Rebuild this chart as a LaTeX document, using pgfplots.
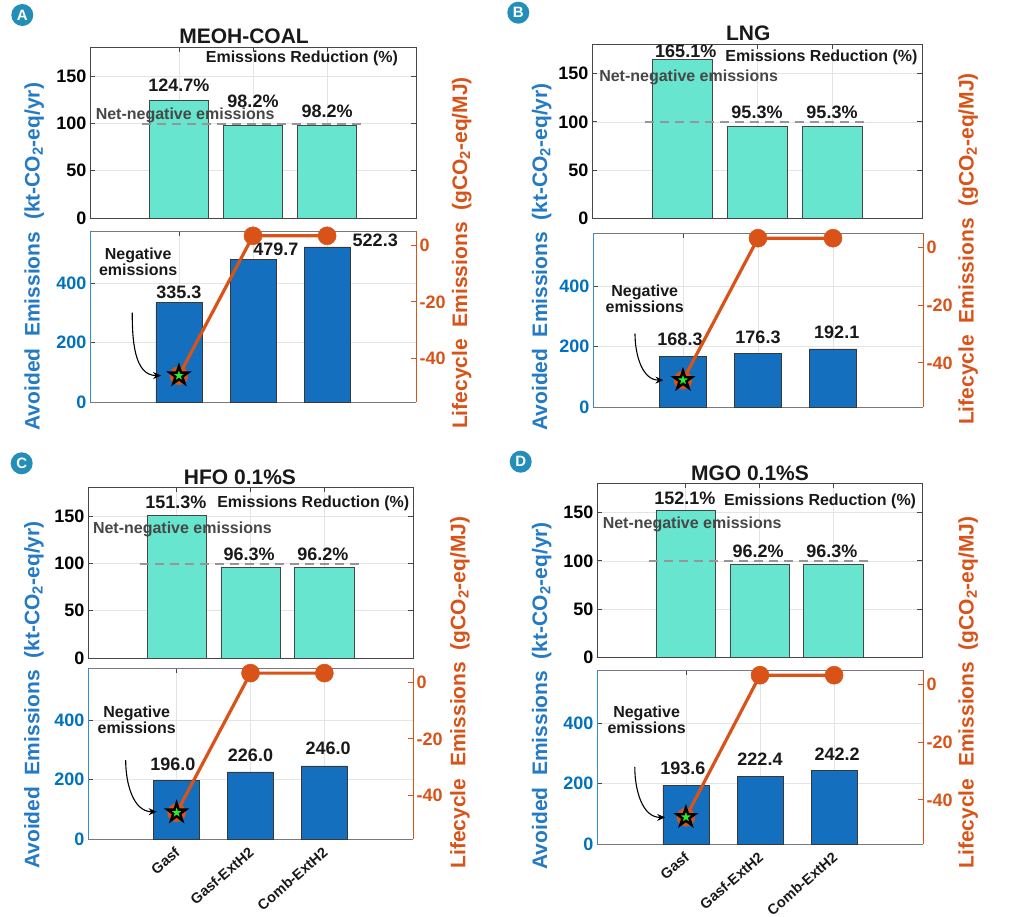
\documentclass[border=0pt]{standalone}
\usepackage{fontspec}
\setmainfont{Liberation Sans}
\usepackage{pgfplots}
\pgfplotsset{compat=1.18}
\usetikzlibrary{arrows.meta}

\definecolor{mblue}{RGB}{0,114,189}
\definecolor{lblue}{RGB}{36,122,196}
\definecolor{barblue}{RGB}{20,112,190}
\definecolor{morange}{RGB}{217,83,25}
\definecolor{tealbar}{RGB}{103,229,206}
\definecolor{boxgray}{RGB}{70,70,70}
\definecolor{frgray}{RGB}{120,120,130}
\definecolor{dashgray}{RGB}{150,150,150}
\definecolor{gridgray}{RGB}{228,228,228}
\definecolor{letterc}{RGB}{35,143,184}
\definecolor{txtdark}{RGB}{25,25,25}
\definecolor{mgreen}{RGB}{40,240,40}

\pgfdeclareplotmark{fstar}{%
\pgfpathmoveto{\pgfqpoint{0pt}{\pgfplotmarksize}}%
\pgfpathlineto{\pgfqpoint{-0.2245\pgfplotmarksize}{0.309\pgfplotmarksize}}%
\pgfpathlineto{\pgfqpoint{-0.951\pgfplotmarksize}{0.309\pgfplotmarksize}}%
\pgfpathlineto{\pgfqpoint{-0.363\pgfplotmarksize}{-0.118\pgfplotmarksize}}%
\pgfpathlineto{\pgfqpoint{-0.588\pgfplotmarksize}{-0.809\pgfplotmarksize}}%
\pgfpathlineto{\pgfqpoint{0pt}{-0.382\pgfplotmarksize}}%
\pgfpathlineto{\pgfqpoint{0.588\pgfplotmarksize}{-0.809\pgfplotmarksize}}%
\pgfpathlineto{\pgfqpoint{0.363\pgfplotmarksize}{-0.118\pgfplotmarksize}}%
\pgfpathlineto{\pgfqpoint{0.951\pgfplotmarksize}{0.309\pgfplotmarksize}}%
\pgfpathlineto{\pgfqpoint{0.2245\pgfplotmarksize}{0.309\pgfplotmarksize}}%
\pgfpathclose
\pgfusepathqfillstroke}

\newcommand{\fs}[1]{\bfseries\fontsize{#1}{#1}\selectfont}

\pgfplotsset{
  base/.style={scale only axis, anchor=north west, xmin=-0.2, xmax=4.2,
    xtick={1,2,3}, tick align=inside, major tick length=5pt,
    /pgf/number format/assume math mode=true,
    tick label style={font=\fs{18}},
    grid=major, major grid style={gridgray, line width=0.7pt},
    axis line style={line width=0.9pt}, clip=false},
  topax/.style={base, ymin=0, ymax=181, ytick={0,50,100,150}, xticklabels={},
    axis line style={boxgray}, tick style={boxgray, line width=0.8pt}},
  botax/.style={base, separate axis lines, ymin=0, ymax=576, ytick={0,200,400}, ytick pos=left,
    xticklabels={}, x axis line style={frgray}, y axis line style={mblue!80},
    tick style={boxgray, line width=0.8pt}, yticklabel style={text=mblue}},
  rightax/.style={scale only axis, anchor=north west, xmin=-0.2, xmax=4.2,
    ymin=-55.3, ymax=5, axis x line=none, axis y line*=right,
    ytick={-40,-20,0}, tick align=inside, major tick length=5pt,
    /pgf/number format/assume math mode=true,
    tick label style={font=\fs{18}}, yticklabel style={text=morange},
    y axis line style={morange, line width=0.9pt}, tick style={morange, line width=0.8pt}, clip=false},
  catlabels/.style={xticklabels={Gasf,Gasf-ExtH2,Comb-ExtH2},
    xticklabel style={xshift=1pt, yshift=-11pt, rotate=41, anchor=east, inner sep=0pt, font=\fs{14.5}, text=txtdark}},
  topbar/.style={ybar, bar width=0.8, bar shift=0pt, fill=tealbar, draw=boxgray, line width=0.7pt},
  botbar/.style={ybar, bar width=0.62, bar shift=0pt, fill=barblue, draw=boxgray!80!black, line width=0.7pt},
  refline/.style={sharp plot, dashgray, line width=2pt, dash pattern=on 9pt off 6pt},
  lcline/.style={sharp plot, morange, line width=3.2pt, mark=*, mark size=9pt, mark options={fill=morange, draw=morange, line width=0.5pt}},
  starmk/.style={only marks, mark=fstar, mark size=9.5pt, mark options={fill=mgreen, draw=black, line width=2.4pt}},
}
\tikzset{
  vlab/.style={font=\fs{18}, text=txtdark},
  erlab/.style={font=\fs{16}, text=txtdark},
  nnlab/.style={font=\fs{16}, text=txtdark!80, anchor=west},
  neglab/.style={font=\fs{16}, text=txtdark, align=center},
  arr/.style={-{Stealth[length=8pt,width=7pt]}, line width=1.1pt, black},
  ttl/.style={font=\fs{21}, text=txtdark},
  panl/.style={circle, fill=letterc, text=white, font=\fs{15}, minimum size=22pt, inner sep=0pt},
  ylab/.style={rotate=90, font=\fs{21}},
}

\begin{document}
\begin{tikzpicture}
\useasboundingbox (0pt,0pt) rectangle (1013pt,-917pt);

% ================= Panel A =================
\begin{axis}[topax, at={(90pt,-47pt)}, width=326pt, height=171pt]
\addplot[topbar] coordinates {(1,124.7) (2,98.2) (3,98.2)};
\addplot[refline] coordinates {(0.5,100) (3.5,100)};
\node[vlab] at (axis cs:1,140) {124.7\%};
\node[vlab] at (axis cs:2,123) {98.2\%};
\node[vlab] at (axis cs:3,113) {98.2\%};
\node[erlab] at (axis cs:2.66,169) {Emissions Reduction (\%)};
\node[nnlab] at (axis cs:-0.17,109) {Net-negative emissions};
\end{axis}
\begin{axis}[botax, at={(90pt,-231pt)}, width=326pt, height=171pt]
\addplot[botbar] coordinates {(1,335.3) (2,479.7) (3,522.3)};
\node[vlab] at (axis cs:1,371) {335.3};
\node[vlab] at (axis cs:2.31,514) {479.7};
\node[vlab] at (axis cs:3.65,545) {522.3};
\node[neglab] at (axis cs:0.45,471) {Negative\\emissions};
\draw[arr] (axis cs:0.37,301) to[out=-90,in=180] (axis cs:0.76,89);
\end{axis}
\begin{axis}[rightax, at={(90pt,-231pt)}, width=326pt, height=171pt]
\addplot[lcline] coordinates {(1,-46) (2,3.3) (3,3.3)};
\addplot[starmk] coordinates {(1,-46)};
\end{axis}
\node[ttl] at (244pt,-36.7pt) {MEOH-COAL};
\node[panl] at (22.3pt,-15pt) {A};
\node[ylab, text=lblue] at (34.3pt,-256.7pt) {Avoided\ \ Emissions\ \ (kt-CO\textsubscript{2}-eq/yr)};
\node[ylab, text=morange] at (461.7pt,-253pt) {Lifecycle\ \ Emissions\ \ (gCO\textsubscript{2}-eq/MJ)};

% ================= Panel B =================
\begin{axis}[topax, at={(592pt,-44pt)}, width=330pt, height=174pt]
\addplot[topbar] coordinates {(1,165.1) (2,95.3) (3,95.3)};
\addplot[refline] coordinates {(0.5,100) (3.5,100)};
\node[vlab] at (axis cs:1.05,173) {165.1\%};
\node[vlab] at (axis cs:2,110) {95.3\%};
\node[vlab] at (axis cs:3,110) {95.3\%};
\node[erlab] at (axis cs:2.86,167) {Emissions Reduction (\%)};
\node[nnlab] at (axis cs:-0.15,146.6) {Net-negative emissions};
\end{axis}
\begin{axis}[botax, at={(593pt,-233pt)}, width=330pt, height=174pt]
\addplot[botbar] coordinates {(1,168.3) (2,176.3) (3,192.1)};
\node[vlab] at (axis cs:0.96,224) {168.3};
\node[vlab] at (axis cs:2,230) {176.3};
\node[vlab] at (axis cs:3.05,247) {192.1};
\node[neglab] at (axis cs:0.49,359) {Negative\\emissions};
\draw[arr] (axis cs:0.36,243) to[out=-90,in=180] (axis cs:0.74,89);
\end{axis}
\begin{axis}[rightax, at={(593pt,-233pt)}, width=330pt, height=174pt]
\addplot[lcline] coordinates {(1,-46) (2,3.2) (3,3.2)};
\addplot[starmk] coordinates {(1,-46)};
\end{axis}
\node[ttl] at (748.3pt,-33.3pt) {LNG};
\node[panl] at (518.3pt,-12.7pt) {B};
\node[ylab, text=lblue] at (541.7pt,-257pt) {Avoided\ \ Emissions\ \ (kt-CO\textsubscript{2}-eq/yr)};
\node[ylab, text=morange] at (968.3pt,-249pt) {Lifecycle\ \ Emissions\ \ (gCO\textsubscript{2}-eq/MJ)};

% ================= Panel C =================
\begin{axis}[topax, at={(88pt,-487pt)}, width=325pt, height=171pt]
\addplot[topbar] coordinates {(1,151.3) (2,96.3) (3,96.2)};
\addplot[refline] coordinates {(0.5,100) (3.5,100)};
\node[vlab] at (axis cs:0.99,165) {151.3\%};
\node[vlab] at (axis cs:1.98,110) {96.3\%};
\node[vlab] at (axis cs:2.98,110) {96.2\%};
\node[erlab] at (axis cs:2.85,164) {Emissions Reduction (\%)};
\node[nnlab] at (axis cs:-0.18,136) {Net-negative emissions};
\end{axis}
\begin{axis}[botax, catlabels, at={(88pt,-668pt)}, width=325pt, height=171pt]
\addplot[botbar] coordinates {(1,196.0) (2,226.0) (3,246.0)};
\node[vlab] at (axis cs:0.95,253) {196.0};
\node[vlab] at (axis cs:2,283) {226.0};
\node[vlab] at (axis cs:3.05,306) {246.0};
\node[neglab] at (axis cs:0.46,402) {Negative\\emissions};
\draw[arr] (axis cs:0.31,266) to[out=-90,in=180] (axis cs:0.73,92);
\end{axis}
\begin{axis}[rightax, at={(88pt,-668pt)}, width=325pt, height=171pt]
\addplot[lcline] coordinates {(1,-46) (2,3.2) (3,3.2)};
\addplot[starmk] coordinates {(1,-46)};
\end{axis}
\node[ttl] at (240pt,-477.3pt) {HFO 0.1\%S};
\node[panl] at (21.7pt,-463.3pt) {C};
\node[ylab, text=lblue] at (34pt,-695pt) {Avoided\ \ Emissions\ \ (kt-CO\textsubscript{2}-eq/yr)};
\node[ylab, text=morange] at (460pt,-692.5pt) {Lifecycle\ \ Emissions\ \ (gCO\textsubscript{2}-eq/MJ)};

% ================= Panel D =================
\begin{axis}[topax, at={(597pt,-483pt)}, width=325pt, height=174pt]
\addplot[topbar] coordinates {(1,152.1) (2,96.2) (3,96.3)};
\addplot[refline] coordinates {(0.5,100) (3.5,100)};
\node[vlab] at (axis cs:0.99,165) {152.1\%};
\node[vlab] at (axis cs:1.98,110) {96.2\%};
\node[vlab] at (axis cs:2.98,110) {96.3\%};
\node[erlab] at (axis cs:2.82,162) {Emissions Reduction (\%)};
\node[nnlab] at (axis cs:-0.17,138) {Net-negative emissions};
\end{axis}
\begin{axis}[botax, catlabels, at={(597pt,-670pt)}, width=326pt, height=174pt]
\addplot[botbar] coordinates {(1,193.6) (2,222.4) (3,242.2)};
\node[vlab] at (axis cs:0.96,250) {193.6};
\node[vlab] at (axis cs:2,280) {222.4};
\node[vlab] at (axis cs:3.04,296) {242.2};
\node[neglab] at (axis cs:0.47,410) {Negative\\emissions};
\draw[arr] (axis cs:0.31,255) to[out=-90,in=180] (axis cs:0.72,88);
\end{axis}
\begin{axis}[rightax, at={(597pt,-670pt)}, width=326pt, height=174pt]
\addplot[lcline] coordinates {(1,-46) (2,3.2) (3,3.2)};
\addplot[starmk] coordinates {(1,-46)};
\end{axis}
\node[ttl] at (750pt,-473.3pt) {MGO 0.1\%S};
\node[panl] at (520.7pt,-461.7pt) {D};
\node[ylab, text=lblue] at (541.7pt,-695.8pt) {Avoided\ \ Emissions\ \ (kt-CO\textsubscript{2}-eq/yr)};
\node[ylab, text=morange] at (968.3pt,-692.5pt) {Lifecycle\ \ Emissions\ \ (gCO\textsubscript{2}-eq/MJ)};
\end{tikzpicture}
\end{document}
